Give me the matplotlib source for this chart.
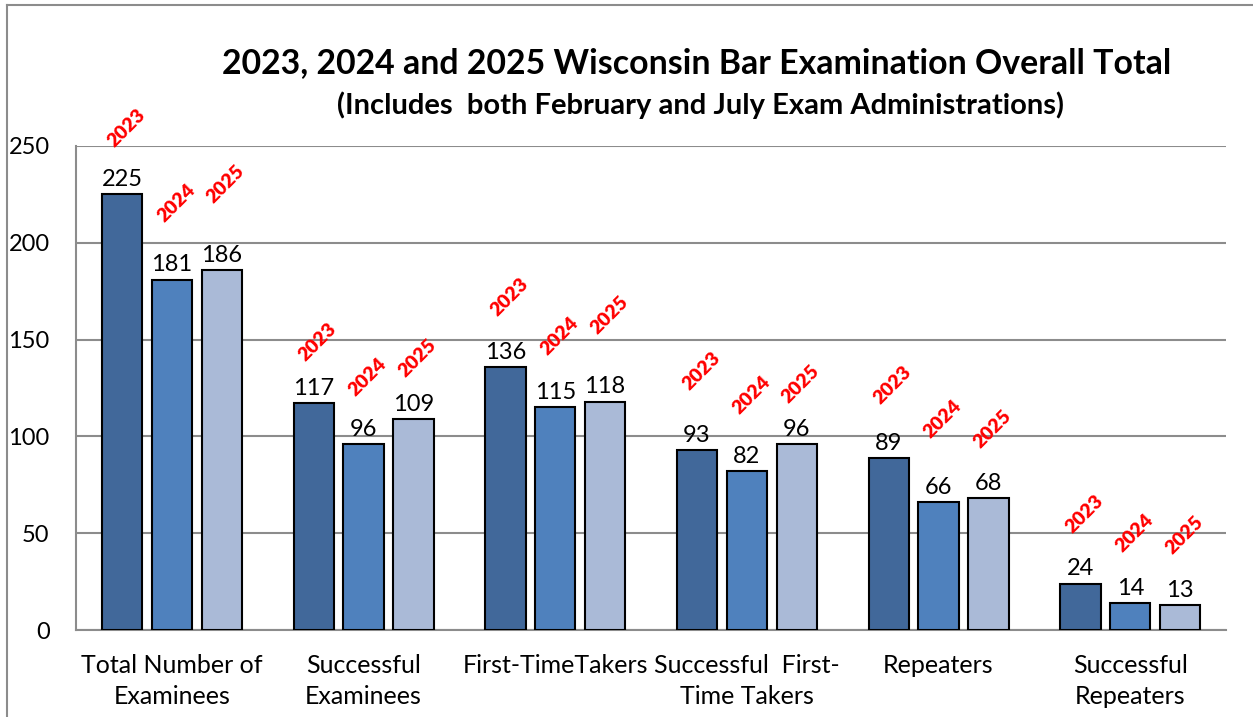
import numpy as np
import matplotlib.pyplot as plt
from matplotlib.lines import Line2D

plt.rcParams['font.family'] = ['Lato', 'DejaVu Sans']

categories = ['Total Number of\nExaminees', 'Successful\nExaminees', 'First-TimeTakers',
              'Successful  First-\nTime Takers', 'Repeaters', 'Successful\nRepeaters']
years = ['2023', '2024', '2025']
vals_2023 = [225, 117, 136, 93, 89, 24]
vals_2024 = [181, 96, 115, 82, 66, 14]
vals_2025 = [186, 109, 118, 96, 68, 13]

# hand-placed year tags above the bars (offset in points from bar top)
tag_offsets = [
    [48, 44, 50, 57, 52, 50],
    [55, 48, 51, 55, 60, 50],
    [62, 44, 62, 43, 50, 50],
]

colors = ['#41689a', '#4f81bd', '#aabad7']

fig = plt.figure(figsize=(12.53, 7.17), dpi=100)
ax = fig.add_axes([0.0607, 0.1213, 0.9178, 0.6751])

x = np.arange(len(categories))
w = 0.21
step = 0.26
series = [vals_2023, vals_2024, vals_2025]
for i, vals in enumerate(series):
    pos = x + (i - 1) * step
    ax.bar(pos, vals, width=w, color=colors[i], edgecolor='black', linewidth=1.5, zorder=3)
    for j, v in enumerate(vals):
        ax.annotate(str(v), (pos[j], v), xytext=(0, 3), textcoords='offset points',
                    ha='center', va='bottom', fontsize=17, color='black')
        ax.annotate(years[i], (pos[j], v), xytext=(3, tag_offsets[i][j]), textcoords='offset points',
                    ha='center', va='center', fontsize=14, fontweight='heavy', color='red',
                    rotation=45)

ax.set_xlim(-0.5, len(categories) - 0.5)
ax.set_ylim(0, 250)
ax.set_yticks([0, 50, 100, 150, 200, 250])
ax.yaxis.grid(True, color='#8c8c8c', linewidth=1.5, zorder=0)
ax.set_axisbelow(True)
ax.set_xticks(x)
ax.set_xticklabels(categories, fontsize=18, linespacing=1.45)
ax.tick_params(axis='y', labelsize=17, length=0, pad=19)
ax.tick_params(axis='x', length=0, pad=17)
for s in ['top', 'right']:
    ax.spines[s].set_visible(False)
for s in ['left', 'bottom']:
    ax.spines[s].set_color('#8c8c8c')
    ax.spines[s].set_linewidth(1.5)

fig.text(0.556, 0.912, '2023, 2024 and 2025 Wisconsin Bar Examination Overall Total',
         ha='center', va='center', fontsize=24.4, fontweight='bold')
fig.text(0.559, 0.853, '(Includes  both February and July Exam Administrations)',
         ha='center', va='center', fontsize=21, fontweight='bold')

# outer chart frame
fig.add_artist(Line2D([0.0056, 0.0056], [0, 0.993], color='#8c8c8c', linewidth=1.5))
fig.add_artist(Line2D([0.0056, 1], [0.993, 0.993], color='#8c8c8c', linewidth=1.5))

fig.savefig('out.png', dpi=100)
